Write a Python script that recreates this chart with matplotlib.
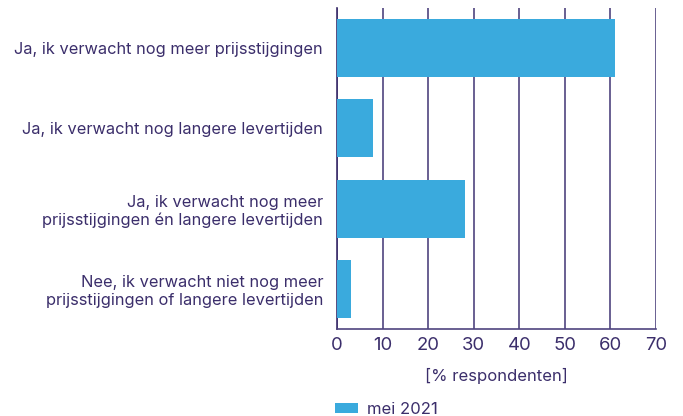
import matplotlib

matplotlib.use("Agg")
import matplotlib.pyplot as plt
from matplotlib.patches import Patch

categories = [
    "Ja, ik verwacht nog meer prijsstijgingen",
    "Ja, ik verwacht nog langere levertijden",
    "Ja, ik verwacht nog meer\nprijsstijgingen én langere levertijden",
    "Nee, ik verwacht niet nog meer\nprijsstijgingen of langere levertijden",
]
values = [61, 8, 28, 3]
series_label = "mei 2021"
x_ticks = [0, 10, 20, 30, 40, 50, 60, 70]

BAR_COLOR = "#3AAADD"
TEXT_COLOR = "#3B2E6B"
GRID_COLOR = "#4F447F"

plt.rcParams["font.family"] = ["Inter", "DejaVu Sans"]

fig = plt.figure(figsize=(6.83, 4.16), dpi=100)
ax = fig.add_axes([0.4934, 0.2091, 0.4671, 0.7717])

ypos = list(range(len(categories)))
ax.barh(ypos, values, height=0.725, color=BAR_COLOR, zorder=3)
ax.set_ylim(3.5, -0.5)
ax.set_xlim(0, 70)

ax.set_yticks(ypos)
ax.set_yticklabels(categories, fontsize=11.8, color=TEXT_COLOR, ha="right",
                   linespacing=1.2)
ax.set_xticks(x_ticks)
ax.set_xticklabels([str(t) for t in x_ticks], fontsize=13.3, color=TEXT_COLOR)
ax.tick_params(axis="y", length=0, pad=10)
ax.tick_params(axis="x", length=0, pad=6)

ax.grid(axis="x", color=GRID_COLOR, linewidth=1.2, zorder=1)
for side in ["top", "right"]:
    ax.spines[side].set_visible(False)
ax.spines["left"].set_color(TEXT_COLOR)
ax.spines["bottom"].set_color(GRID_COLOR)
ax.spines["left"].set_linewidth(1.2)
ax.spines["bottom"].set_linewidth(1.2)

ax.set_xlabel("[% respondenten]", fontsize=12, color=TEXT_COLOR, labelpad=10)

handle = Patch(facecolor=BAR_COLOR, edgecolor="none")
fig.legend([handle], [series_label], loc="upper left",
           bbox_to_anchor=(335 / 683, 1 - 402 / 416), frameon=False,
           fontsize=12, labelcolor=TEXT_COLOR, handlelength=1.4,
           handleheight=0.6, handletextpad=0.5, borderpad=0, borderaxespad=0)

fig.savefig("out.png", dpi=100)
